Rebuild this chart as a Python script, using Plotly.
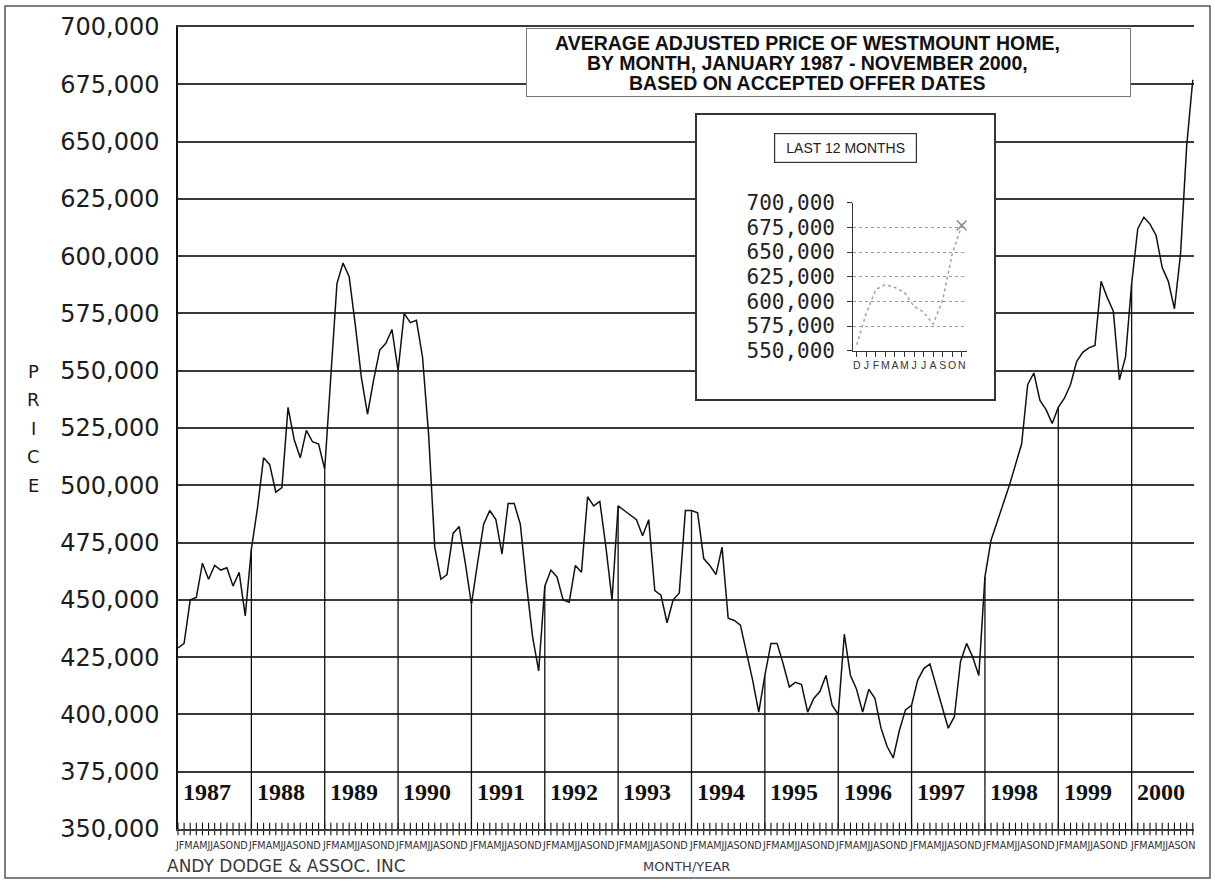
import plotly.graph_objects as go

# Average adjusted price of a Westmount home, by month (Jan 1987 - Nov 2000)
prices_1987 = [429000, 431000, 450000, 451000, 466000, 459000, 465000, 463000, 464000, 456000, 462000, 443000]
prices_1988 = [472000, 490000, 512000, 509000, 497000, 499000, 534000, 520000, 512000, 524000, 519000, 518000]
prices_1989 = [507000, 547000, 588000, 597000, 591000, 570000, 547000, 531000, 546000, 559000, 562000, 568000]
prices_1990 = [550000, 575000, 571000, 572000, 556000, 522000, 473000, 459000, 461000, 479000, 482000, 466000]
prices_1991 = [448000, 466000, 483000, 489000, 485000, 470000, 492000, 492000, 483000, 457000, 434000, 419000]
prices_1992 = [456000, 463000, 460000, 450000, 449000, 465000, 462000, 495000, 491000, 493000, 473000, 450000]
prices_1993 = [491000, 489000, 487000, 485000, 478000, 485000, 454000, 452000, 440000, 450000, 453000, 489000]
prices_1994 = [489000, 488000, 468000, 465000, 461000, 473000, 442000, 441000, 439000, 427000, 415000, 401000]
prices_1995 = [417000, 431000, 431000, 422000, 412000, 414000, 413000, 401000, 407000, 410000, 417000, 404000]
prices_1996 = [400000, 435000, 417000, 411000, 401000, 411000, 407000, 394000, 386000, 381000, 393000, 402000]
prices_1997 = [404000, 415000, 420000, 422000, 413000, 404000, 394000, 399000, 423000, 431000, 425000, 417000]
prices_1998 = [460000, 476000, 484000, 491000, 500000, 509000, 518000, 544000, 549000, 537000, 533000, 527000]
prices_1999 = [534000, 538000, 544000, 554000, 558000, 560000, 561000, 589000, 582000, 576000, 546000, 556000]
prices_2000 = [588000, 612000, 617000, 614000, 609000, 595000, 589000, 577000, 601000, 648000, 677000]

years = list(range(1987, 2001))
month_letters = list("JFMAMJJASOND")
price_ticks = list(range(350000, 700001, 25000))
inset_ticks = list(range(550000, 700001, 25000))
inset_letters = list("DJFMAMJJASON")

yearly = [prices_1987, prices_1988, prices_1989, prices_1990, prices_1991, prices_1992,
          prices_1993, prices_1994, prices_1995, prices_1996, prices_1997, prices_1998,
          prices_1999, prices_2000]
prices = [v for year_vals in yearly for v in year_vals]
months = list(range(len(prices)))
last12 = prices[-12:]

W, H = 1215, 882
L, R, T, B = 178, 1194, 27, 829


def px(x):
    return (x - L) / (R - L)


def py(y):
    return (B - y) / (B - T)


INK = "#1c1c1c"
GRID = "#3a3a3a"

fig = go.Figure()

# January drop lines (they also separate the year labels)
drop_x, drop_y = [], []
for k in range(1, len(years)):
    m = 12 * k
    drop_x += [m, m, None]
    drop_y += [350000, prices[m], None]
fig.add_trace(go.Scatter(x=drop_x, y=drop_y, mode="lines",
                         line=dict(color="#111", width=1.3),
                         hoverinfo="skip", showlegend=False))

# month tick marks across the base line
fig.add_trace(go.Scatter(x=months, y=[350000] * len(months), mode="markers",
                         marker=dict(symbol="line-ns", size=9,
                                     line=dict(color="#111", width=1.1)),
                         cliponaxis=False, hoverinfo="skip", showlegend=False))

# price line
fig.add_trace(go.Scatter(x=months, y=prices, mode="lines",
                         line=dict(color="#111", width=1.5),
                         showlegend=False))

# background panel of the inset (own subplot so it sits over the main grid)
fig.add_trace(go.Scatter(x=[], y=[], xaxis="x2", yaxis="y2",
                         hoverinfo="skip", showlegend=False))

# inset: last 12 months
fig.add_trace(go.Scatter(x=list(range(12)), y=last12, xaxis="x3", yaxis="y3",
                         mode="lines", line=dict(color="#a0a0a0", width=1.5, dash="dot"),
                         hoverinfo="skip", showlegend=False))
fig.add_trace(go.Scatter(x=[11], y=[last12[-1]], xaxis="x3", yaxis="y3",
                         mode="markers",
                         marker=dict(symbol="x-thin", size=10,
                                     line=dict(color="#909090", width=1.5)),
                         hoverinfo="skip", showlegend=False))


def note(x, y, text, font, xref="paper", yref="paper", **kw):
    d = dict(x=x, y=y, xref=xref, yref=yref, text=text, showarrow=False,
             xanchor="center", yanchor="middle", font=font)
    d.update(kw)
    return d


annotations = []

# year labels in the bottom band, month initials under the base line
for k, yr in enumerate(years):
    n = len(yearly[k])
    annotations.append(note(12 * k + 4.8, 366000, str(yr),
                            dict(family="Liberation Serif", size=24, color="#111",
                                 weight="bold"), xref="x", yref="y"))
    annotations.append(note(12 * k + (n - 1) / 2, py(845), "".join(month_letters[:n]),
                            dict(family="DejaVu Sans", size=9.6, color="#333"),
                            xref="x", yref="paper"))

# vertical axis title
for i, ch in enumerate("PRICE"):
    annotations.append(note(px(33), py(371 + 28.6 * i), ch,
                            dict(family="DejaVu Sans", size=18, color=INK)))

annotations.append(note(px(286), py(866), "ANDY DODGE &amp; ASSOC. INC",
                        dict(family="DejaVu Sans", size=17, color="#3a3a3a")))
annotations.append(note(px(686), py(866), "MONTH/YEAR",
                        dict(family="DejaVu Sans", size=13, color="#3a3a3a")))

# title box
annotations.append(note(px(828.5), py(62.25), " ", dict(size=10),
                        width=603, height=67, bgcolor="white", bordercolor="#777",
                        borderwidth=1, borderpad=0))
title_lines = ["AVERAGE ADJUSTED PRICE OF WESTMOUNT HOME,",
               "BY MONTH, JANUARY 1987 - NOVEMBER 2000,",
               "BASED ON ACCEPTED OFFER DATES"]
for i, line in enumerate(title_lines):
    annotations.append(note(px(807), py(43 + 20 * i), line,
                            dict(family="Liberation Sans", size=19.5, color="#111",
                                 weight="bold")))

# inset caption box
annotations.append(note(px(845), py(147.7), "LAST 12 MONTHS",
                        dict(family="Liberation Sans", size=14, color="#222"),
                        width=131, height=18, borderpad=5, bordercolor="#333",
                        borderwidth=1.2, bgcolor="white"))

shapes = [
    # page frame
    dict(type="rect", xref="paper", yref="paper", x0=px(5), x1=px(1210),
         y0=py(878), y1=py(6), line=dict(color="#555", width=1.5), layer="below"),
    # white panel behind the inset
    dict(type="rect", xref="x2", yref="y2", x0=0, x1=1, y0=0, y1=1,
         fillcolor="white", line=dict(width=0), layer="below"),
]

fig.update_layout(
    template="none",
    width=W, height=H,
    margin=dict(l=L, r=W - R, t=T, b=H - B, autoexpand=False),
    paper_bgcolor="white", plot_bgcolor="white",
    font=dict(family="DejaVu Sans", color=INK),
    showlegend=False,
    annotations=annotations,
    shapes=shapes,
    xaxis=dict(domain=[0, 1], range=[0, 166.2], showticklabels=False, ticks="",
               showgrid=False, zeroline=False, showline=True, mirror=True,
               linecolor=GRID, linewidth=2, automargin=False),
    yaxis=dict(domain=[0, 1], range=[350000, 700000], tickmode="array",
               tickvals=price_ticks, ticktext=[f"{v:,}" for v in price_ticks],
               tickfont=dict(family="DejaVu Sans", size=24, color=INK),
               ticks="", ticklabelstandoff=12, showgrid=True, gridcolor=GRID,
               gridwidth=2, zeroline=False, showline=True, linecolor="#111",
               linewidth=1.5, automargin=False),
    xaxis2=dict(domain=[px(696.7), px(994)], range=[0, 1], anchor="y2",
                showline=True, mirror=True, linecolor="#333", linewidth=1.5,
                showgrid=False, zeroline=False, showticklabels=False, ticks="",
                automargin=False),
    yaxis2=dict(domain=[py(399.3), py(115)], range=[0, 1], anchor="x2",
                showline=True, mirror=True, linecolor="#333", linewidth=1.5,
                showgrid=False, zeroline=False, showticklabels=False, ticks="",
                automargin=False),
    xaxis3=dict(domain=[px(853.3), px(966.7)], range=[-0.36, 11.52], anchor="y3",
                tickmode="array", tickvals=list(range(12)), ticktext=inset_letters,
                tickangle=0, tickfont=dict(family="Liberation Sans", size=10.5, color="#333"),
                ticks="outside", ticklen=5, tickcolor="#333", ticklabelstandoff=0,
                showline=True, linecolor="#333", linewidth=1.2,
                showgrid=False, zeroline=False, automargin=False),
    yaxis3=dict(domain=[py(350.7), py(202.7)], range=[550000, 700000], anchor="x3",
                tickmode="array", tickvals=inset_ticks,
                ticktext=[f"{v:,}" for v in inset_ticks],
                tickfont=dict(family="DejaVu Sans Mono", size=21, color="#222"),
                ticks="outside", ticklen=5, tickcolor="#333", ticklabelstandoff=8,
                showline=True, linecolor="#333", linewidth=1.2,
                showgrid=True, gridcolor="#9a9a9a", griddash="dot", gridwidth=1.2,
                zeroline=False, automargin=False),
)

fig.write_html("out.html")
